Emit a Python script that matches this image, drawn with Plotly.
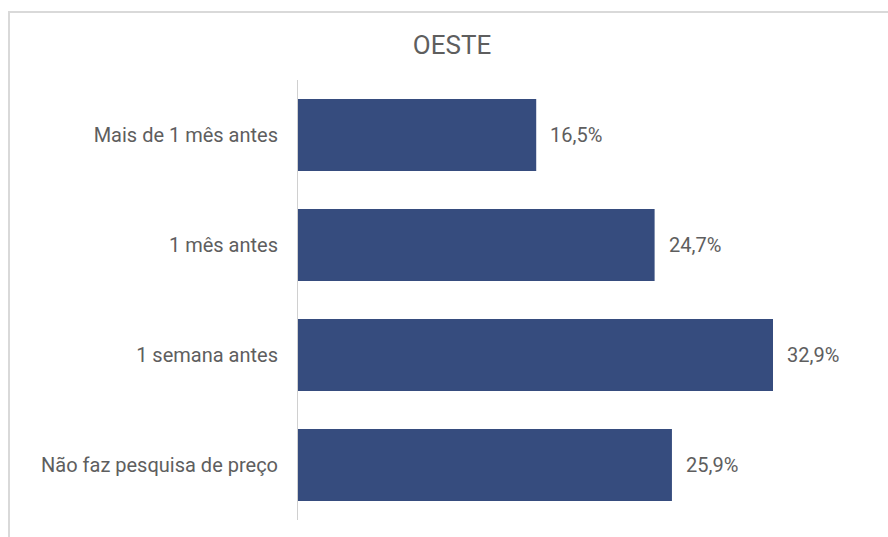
import plotly.graph_objects as go

categories = ["Mais de 1 mês antes", "1 mês antes", "1 semana antes", "Não faz pesquisa de preço"]
values = [16.5, 24.7, 32.9, 25.9]
title_text = "OESTE"

labels = [f"{v:.1f}".replace(".", ",") + "%" for v in values]

W, H = 888, 537
L, R, T, B = 298, 18, 80, 17
scale = 475 / 32.9
xmax = (W - L - R) / scale

FONT = "Roboto"
GRAY = "#5E5E5E"

fig = go.Figure(go.Bar(
    x=values, y=categories, orientation="h",
    marker=dict(color="#364C7E", line=dict(width=0)),
    hoverinfo="skip",
))

for c, v, t in zip(categories, values, labels):
    fig.add_annotation(x=v, y=c, text=t, showarrow=False, xanchor="left",
                       xshift=12, font=dict(family=FONT, size=20, color=GRAY))

fig.update_layout(
    width=W, height=H,
    margin=dict(l=L, r=R, t=T, b=B),
    paper_bgcolor="white", plot_bgcolor="white",
    bargap=0.345,
    showlegend=False,
    title=dict(text=title_text, x=452 / W, xanchor="center", y=1 - 45 / H, yanchor="middle",
               font=dict(family=FONT, size=26, color=GRAY)),
    xaxis=dict(range=[0, xmax], visible=False, fixedrange=True),
    yaxis=dict(autorange="reversed", showline=True, linecolor="#D0D0D0", linewidth=1,
               ticks="", showgrid=False, ticklabelstandoff=15, fixedrange=True,
               tickfont=dict(family=FONT, size=20, color=GRAY)),
    shapes=[dict(type="rect", xref="paper", yref="paper",
                 x0=-(L - 9) / (W - L - R), x1=1 + 50 / (W - L - R),
                 y0=-60 / (H - T - B), y1=1 + (T - 12) / (H - T - B),
                 line=dict(color="#D9D9D9", width=2), fillcolor="rgba(0,0,0,0)",
                 layer="below")],
)

fig.write_html("out.html", config={"displayModeBar": False},
               post_script="document.body.style.margin='0';document.body.style.overflow='hidden';")
